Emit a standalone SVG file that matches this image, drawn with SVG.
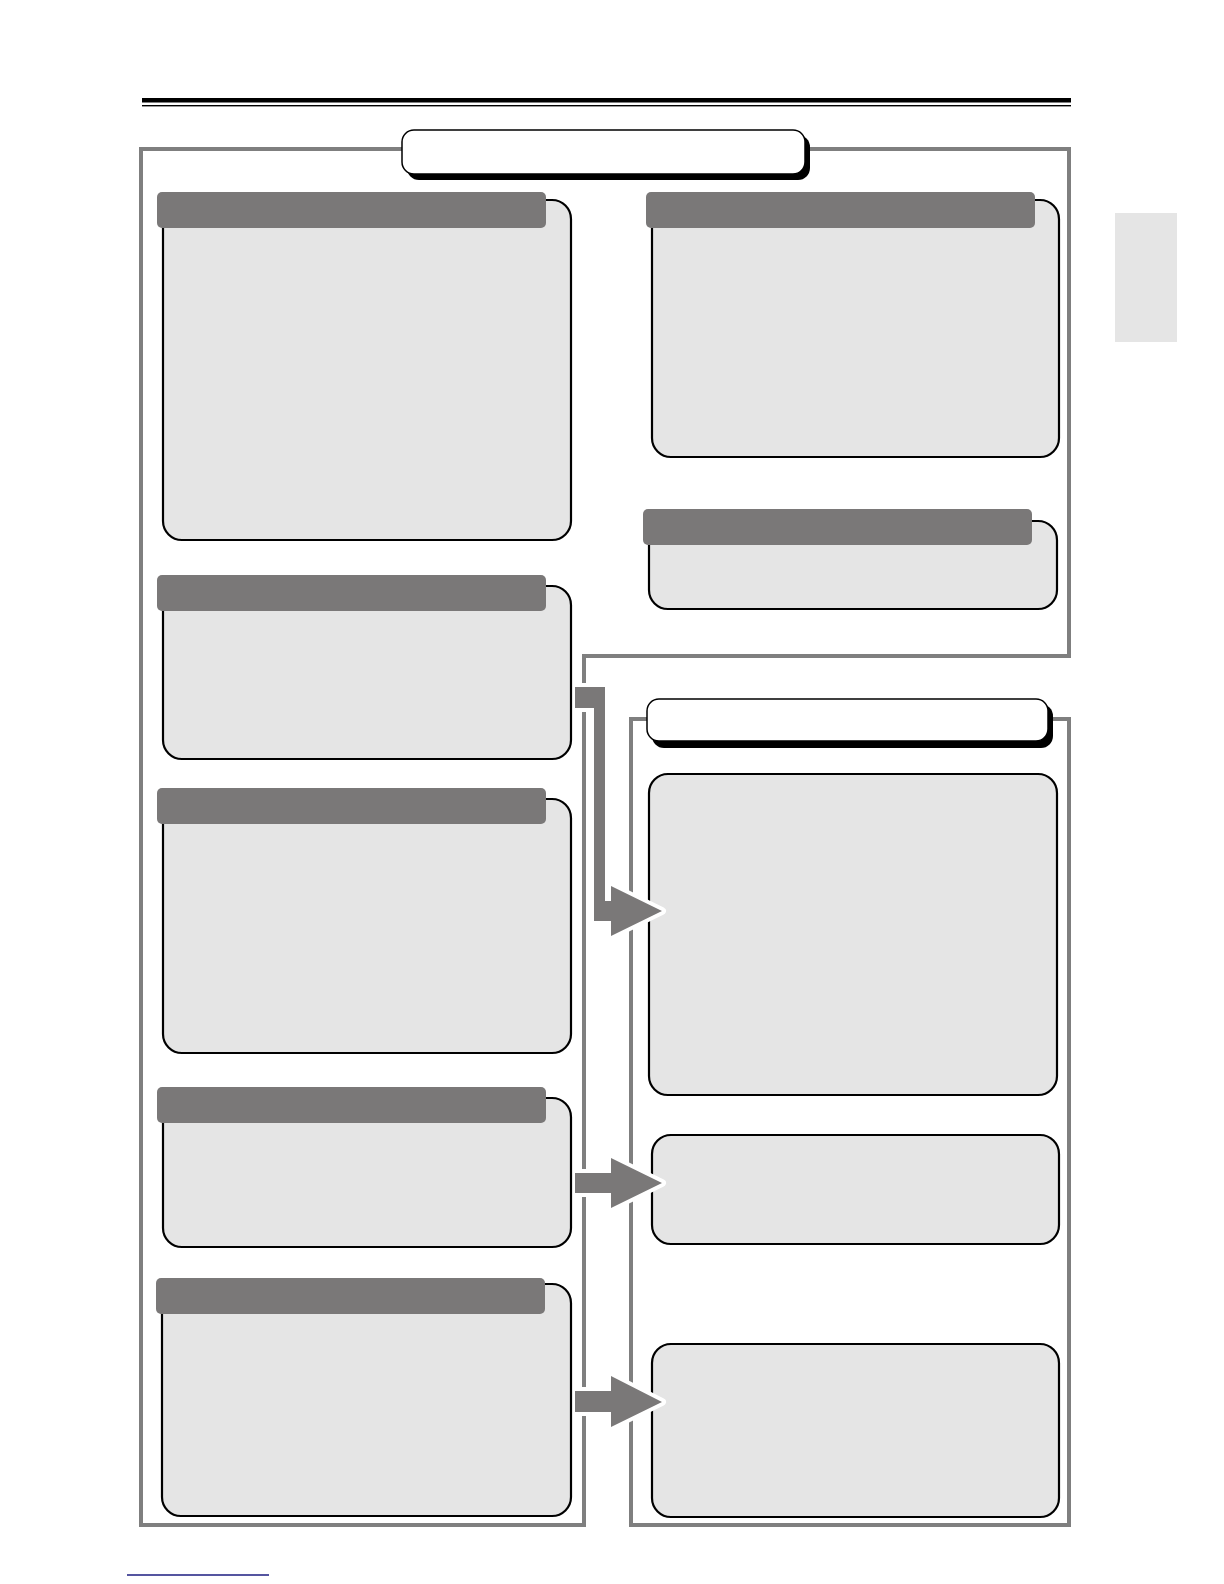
<svg xmlns="http://www.w3.org/2000/svg" width="1224" height="1584" viewBox="0 0 1224 1584">
<style>
.frame{fill:none;stroke:#7f7f7f;stroke-width:4}
.body{fill:#e5e5e5;stroke:#000;stroke-width:2.2}
.hdr{fill:#7a7878}
.title{fill:#fff;stroke:#000;stroke-width:1.5}
.shadow{fill:#000}
.arrow{fill:#7a7878;stroke:#fff;stroke-width:8;paint-order:stroke;stroke-linejoin:round}
</style>
<rect width="1224" height="1584" fill="#fff"/>
<g id="rules">
<rect x="142" y="98" width="929" height="4.5" fill="#000"/>
<rect x="142" y="105" width="929" height="1.4" fill="#000"/>
</g>
<g id="frames">
<path class="frame" d="M141,149 H1069 V656 H584 V1525 H141 Z"/>
<rect class="frame" x="631" y="719" width="438" height="806"/>
</g>
<g id="title-top">
<rect class="shadow" x="407" y="135" width="403" height="45" rx="12"/>
<rect class="title" x="402" y="130" width="403" height="44" rx="12"/>
</g>
<g id="title-right">
<rect class="shadow" x="652" y="704" width="401" height="44" rx="12"/>
<rect class="title" x="647" y="699" width="401" height="42" rx="12"/>
</g>
<g id="box-r1">
<rect class="body" x="652" y="200" width="407" height="257" rx="19"/>
<rect class="hdr" x="646" y="192" width="389" height="36" rx="5"/>
</g>
<g id="box-r2">
<rect class="body" x="649" y="521" width="408" height="88" rx="19"/>
<rect class="hdr" x="643" y="509" width="389" height="36" rx="5"/>
</g>
<g id="box-r3"><rect class="body" x="649" y="774" width="408" height="321" rx="19"/></g>
<g id="box-r4"><rect class="body" x="652" y="1135" width="407" height="109" rx="19"/></g>
<g id="box-r5"><rect class="body" x="652" y="1344" width="407" height="173" rx="19"/></g>
<g id="connectors">
<path class="arrow" d="M575,687 H605 V901 H611 V886 L662,911 L611,936 V921 H594 V708 H575 Z"/>
<path class="arrow" d="M575,1173 H611 V1158 L662,1183 L611,1208 V1193 H575 Z"/>
<path class="arrow" d="M575,1391 H611 V1376 L662,1402 L611,1427 V1412 H575 Z"/>
</g>
<g id="box-l1">
<rect class="body" x="163" y="200" width="408" height="340" rx="19"/>
<rect class="hdr" x="157" y="192" width="389" height="36" rx="5"/>
</g>
<g id="box-l2">
<rect class="body" x="163" y="586" width="408" height="173" rx="19"/>
<rect class="hdr" x="157" y="575" width="389" height="36" rx="5"/>
</g>
<g id="box-l3">
<rect class="body" x="163" y="799" width="408" height="254" rx="19"/>
<rect class="hdr" x="157" y="788" width="389" height="36" rx="5"/>
</g>
<g id="box-l4">
<rect class="body" x="163" y="1098" width="408" height="149" rx="19"/>
<rect class="hdr" x="157" y="1087" width="389" height="36" rx="5"/>
</g>
<g id="box-l5">
<rect class="body" x="162" y="1284" width="409" height="232" rx="19"/>
<rect class="hdr" x="156" y="1278" width="389" height="36" rx="5"/>
</g>
<g id="tab"><rect x="1115" y="213" width="62" height="129" fill="#e5e5e5"/></g>
<g id="footer-link"><line x1="127" y1="1575" x2="269" y2="1575" stroke="#1c1c80" stroke-width="1.5"/></g>
</svg>
